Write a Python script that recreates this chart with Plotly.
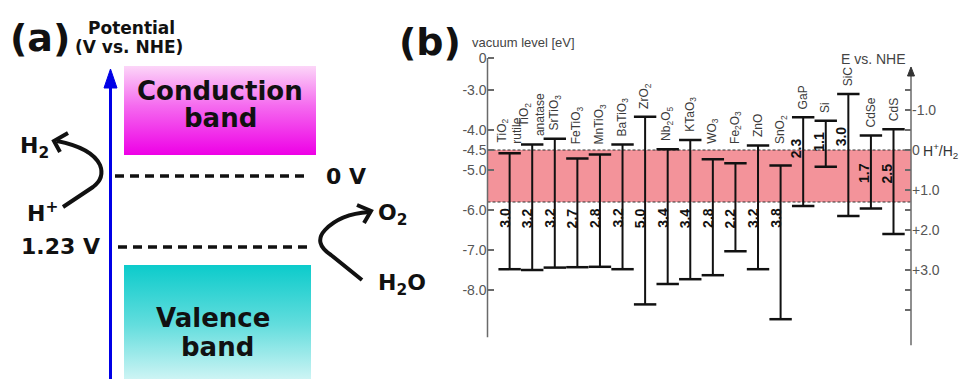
import plotly.graph_objects as go

W, H = 962, 379

# ---------------- data: panel (b) band edges (eV vs. vacuum) ----------------
materials = ["TiO<sub>2</sub><br>rutile", "TiO<sub>2</sub><br>anatase", "SrTiO<sub>3</sub>",
             "FeTiO<sub>3</sub>", "MnTiO<sub>3</sub>", "BaTiO<sub>3</sub>", "ZrO<sub>2</sub>",
             "Nb<sub>2</sub>O<sub>5</sub>", "KTaO<sub>3</sub>", "WO<sub>3</sub>",
             "Fe<sub>2</sub>O<sub>3</sub>", "ZnO", "SnO<sub>2</sub>", "GaP", "Si", "SiC",
             "CdSe", "CdS"]
cb_vac = [-4.58, -4.36, -4.22, -4.71, -4.61, -4.36, -3.67, -4.48, -4.25, -4.73,
          -4.83, -4.39, -4.89, -3.68, -3.77, -3.10, -4.14, -3.98]
vb_vac = [-7.48, -7.50, -7.44, -7.43, -7.42, -7.48, -8.36, -7.85, -7.73, -7.63,
          -7.03, -7.48, -8.73, -5.90, -4.92, -6.15, -5.96, -6.60]
gap_labels = ["3.0", "3.2", "3.2", "2.7", "2.8", "3.2", "5.0", "3.4", "3.4", "2.8",
              "2.2", "3.2", "3.8", "2.3", "1.1", "3.0", "1.7", "2.5"]

h2_level_vac = -4.5    # H+/H2
o2_level_vac = -5.8    # O2/H2O (as drawn)

vac_tick_vals = [-3.0, -4.0, -4.5, -5.0, -6.0, -7.0, -8.0]
vac_tick_text = ["-3.0", "-4.0", "-4.5", "-5.0", "-6.0", "-7.0", "-8.0"]
nhe_tick_vals = [-1.5, -1.0, -0.5, 0.0, 0.5, 1.0, 1.5, 2.0, 2.5, 3.0, 3.5, 4.0]
nhe_tick_text = ["", "-1.0", "", "0", "", "+1.0", "", "+2.0", "", "+3.0", "", ""]

# ---------------- data: panel (a) ----------------
redox_potentials = [0.0, 1.23]
redox_labels = ["0 V", "1.23 V"]

# ---------------- layout helpers (style / positions) ----------------
VAC_RANGE = [-9.5, -2.0]
AXIS_BREAK = -2.2            # where the "0" of the broken vacuum axis is drawn
NHE_OFFSET = -4.5            # E(vac) = -4.5 - E(NHE)
XDOM = [487.5 / W, 911 / W]
YDOM = [1 - 350 / H, 1 - 50 / H]
A_RANGE = [3.518, -3.050]    # panel (a) potential axis (reversed)

def px(x):
    return x / W

def py(y):
    return 1 - y / H

def path(cmds):
    out = []
    for c in cmds:
        if isinstance(c, str):
            out.append(c)
        else:
            out.append(f"{c[0] / W:.5f},{1 - c[1] / H:.5f}")
    return " ".join(out)

DARK = "#111111"
BOLD = dict(family="DejaVu Sans", color=DARK, weight="bold")

fig = go.Figure()

# ---------------- panel (a) boxes with gradients ----------------
cb_box = [-1.906, -0.364]
vb_box = [1.542, 3.6]
fig.add_trace(go.Scatter(
    x=[124, 316, 316, 124, 124], y=[cb_box[0], cb_box[0], cb_box[1], cb_box[1], cb_box[0]],
    xaxis="x2", yaxis="y2", mode="lines", fill="toself", line=dict(width=0),
    fillgradient=dict(type="vertical", start=cb_box[0], stop=cb_box[1],
                      colorscale=[[0, "#fcd6f8"], [0.45, "#f56aef"], [1, "#ee00e6"]]),
    hoverinfo="skip", showlegend=False))
fig.add_trace(go.Scatter(
    x=[124, 311, 311, 124, 124], y=[vb_box[0], vb_box[0], vb_box[1], vb_box[1], vb_box[0]],
    xaxis="x2", yaxis="y2", mode="lines", fill="toself", line=dict(width=0),
    fillgradient=dict(type="vertical", start=vb_box[0], stop=vb_box[1],
                      colorscale=[[0, "#0ccbcb"], [0.5, "#62dddd"], [1, "#d6f6f6"]]),
    hoverinfo="skip", showlegend=False))

# ---------------- panel (b) bars ----------------
bx, by = [], []
for i, (c, v) in enumerate(zip(cb_vac, vb_vac)):
    bx += [i, i, None]
    by += [c, v, None]
fig.add_trace(go.Scatter(x=bx, y=by, mode="lines", line=dict(color=DARK, width=2),
                         hoverinfo="skip", showlegend=False))
idx = list(range(len(materials)))
fig.add_trace(go.Scatter(
    x=idx + idx, y=cb_vac + vb_vac, mode="markers",
    marker=dict(symbol="line-ew", size=16, line=dict(color=DARK, width=2.5)),
    hoverinfo="skip", showlegend=False))
# invisible trace so the NHE (right) axis is drawn
fig.add_trace(go.Scatter(x=[0, 0], y=[NHE_OFFSET - h2_level_vac, NHE_OFFSET - o2_level_vac],
                         yaxis="y3", mode="markers", marker=dict(opacity=0),
                         hoverinfo="skip", showlegend=False))

shapes = []
annotations = []

# ---- panel (a) shapes ----
shapes.append(dict(type="line", xref="paper", yref="paper", x0=px(110.5), x1=px(110.5),
                   y0=py(379), y1=py(84), line=dict(color="#0000e6", width=3)))
shapes.append(dict(type="path", xref="paper", yref="paper",
                   path=path(["M", (110.5, 69), "L", (104, 88), "L", (117, 88), "Z"]),
                   fillcolor="#0000e6", line=dict(color="#0000e6", width=1)))
xs_dash = [(115, 308), (118, 310)]
for (x0, x1), pot in zip(xs_dash, redox_potentials):
    shapes.append(dict(type="line", xref="paper", yref="y2", x0=px(x0), x1=px(x1),
                       y0=pot, y1=pot, line=dict(color=DARK, width=3.5, dash="9px,6px")))
# curved arrows
shapes.append(dict(type="path", xref="paper", yref="paper",
                   path=path(["M", (63, 207), "L", (93, 187), "Q", (105, 178), (100, 165),
                              "Q", (92, 148), (57, 141)]),
                   line=dict(color=DARK, width=4)))
shapes.append(dict(type="path", xref="paper", yref="paper",
                   path=path(["M", (68, 133), "L", (54, 141), "L", (60, 152)]),
                   line=dict(color=DARK, width=4)))
shapes.append(dict(type="path", xref="paper", yref="paper",
                   path=path(["M", (362, 280), "L", (331, 255), "Q", (313, 243), (325, 230),
                              "Q", (340, 214), (369, 212)]),
                   line=dict(color=DARK, width=4)))
shapes.append(dict(type="path", xref="paper", yref="paper",
                   path=path(["M", (357, 205), "L", (371, 211), "L", (364, 223)]),
                   line=dict(color=DARK, width=4)))

# ---- panel (b) shapes ----
shapes.append(dict(type="rect", xref="paper", yref="y", x0=XDOM[0], x1=XDOM[1],
                   y0=o2_level_vac, y1=h2_level_vac, fillcolor="#f3939a",
                   line=dict(width=0), layer="below"))
for lev in (h2_level_vac, o2_level_vac):
    shapes.append(dict(type="line", xref="paper", yref="y", x0=XDOM[0], x1=XDOM[1],
                       y0=lev, y1=lev, line=dict(color="#333333", width=1, dash="3px,2px"),
                       layer="below"))
AX = "#6a6a6a"
shapes.append(dict(type="line", xref="paper", yref="y", x0=XDOM[0], x1=XDOM[0],
                   y0=AXIS_BREAK, y1=-9.18, line=dict(color=AX, width=1.5)))
shapes.append(dict(type="line", xref="paper", yref="y", x0=XDOM[1], x1=XDOM[1],
                   y0=-2.5, y1=-9.38, line=dict(color=AX, width=1.5)))
shapes.append(dict(type="path", xref="paper", yref="paper",
                   path=path(["M", (911, 67), "L", (907.5, 76), "L", (914.5, 76), "Z"]),
                   fillcolor="#333333", line=dict(color="#333333", width=1)))

# ---- panel (a) text ----
def ann(text, x, y, size, xanchor="center", yanchor="middle", yref="paper", **kw):
    annotations.append(dict(text=text, x=px(x), y=(py(y) if yref == "paper" else y),
                            xref="paper", yref=yref, showarrow=False, xanchor=xanchor,
                            yanchor=yanchor, font=dict(BOLD, size=size), **kw))

ann("(a)", 40, 38, 38)
ann("Potential", 131, 28, 17)
ann("(V vs. NHE)", 129, 47, 17)
ann("Conduction", 220, 91, 26)
ann("band", 220, 118, 26)
ann("Valence", 213, 318, 26)
ann("band", 217, 347, 26)
ann(redox_labels[0], 324, redox_potentials[0], 22, xanchor="left", yref="y2")
ann(redox_labels[1], 102, redox_potentials[1], 22, xanchor="right", yref="y2")
ann("H<sub>2</sub>", 18, 148, 22, xanchor="left")
ann("H<sup>+</sup>", 25, 212, 22, xanchor="left")
ann("O<sub>2</sub>", 376, 214, 22, xanchor="left")
ann("H<sub>2</sub>O", 376, 284, 22, xanchor="left")
ann("(b)", 430, 42, 38)

# ---- panel (b) text ----
SANS = "Liberation Sans"
annotations.append(dict(text="vacuum level [eV]", x=px(470), y=py(42), xref="paper",
                        yref="paper", showarrow=False, xanchor="left", yanchor="middle",
                        font=dict(family=SANS, size=13, color="#444444")))
annotations.append(dict(text="E vs. NHE", x=px(908), y=py(49), xref="paper", yref="paper",
                        showarrow=False, font=dict(family=SANS, size=14, color="#444444")))
annotations.append(dict(text="H<sup>+</sup>/H<sub>2</sub>", x=px(921), y=py(151),
                        xref="paper", yref="paper", showarrow=False, xanchor="left",
                        font=dict(family=SANS, size=14, color="#333333")))

for i, name in enumerate(materials):
    base = max(cb_vac[i] + 0.15, -4.4)
    annotations.append(dict(text=name, x=i, y=base, xref="x", yref="y", showarrow=False,
                            textangle=-90, xanchor="center", yanchor="bottom",
                            font=dict(family=SANS, size=12, color="#3a3a3a")))

gap_label_y = [-6.2] * 13 + [-4.45, -4.30, -4.15, -5.075, -5.1]
gap_label_dx = [-0.22] * 13 + [-0.31] * 5
for i, g in enumerate(gap_labels):
    annotations.append(dict(text=g, x=i + gap_label_dx[i], y=gap_label_y[i], xref="x",
                            yref="y", showarrow=False, textangle=-90, xanchor="center",
                            yanchor="middle",
                            font=dict(family=SANS, size=14, color=DARK, weight="bold")))

tick_common = dict(ticks="inside", ticklen=6, tickwidth=1.5, tickcolor=AX, showline=False,
                   showgrid=False, zeroline=False,
                   tickfont=dict(family=SANS, size=14, color="#555555"))

fig.update_layout(
    width=W, height=H, margin=dict(l=0, r=0, t=0, b=0),
    paper_bgcolor="white", plot_bgcolor="rgba(0,0,0,0)", showlegend=False,
    xaxis=dict(domain=XDOM, range=[-0.98, 17.775], visible=False, anchor="y"),
    yaxis=dict(domain=YDOM, range=VAC_RANGE, anchor="x", side="left",
               tickvals=[AXIS_BREAK] + vac_tick_vals, ticktext=["0"] + vac_tick_text,
               **tick_common),
    yaxis3=dict(overlaying="y", anchor="x", side="right",
                range=[NHE_OFFSET - VAC_RANGE[0], NHE_OFFSET - VAC_RANGE[1]],
                tickvals=nhe_tick_vals, ticktext=nhe_tick_text, **tick_common),
    xaxis2=dict(domain=[0, 1], range=[0, W], visible=False, anchor="y2"),
    yaxis2=dict(domain=[0, 1], range=A_RANGE, visible=False, anchor="x2"),
    shapes=shapes, annotations=annotations,
)

fig.write_html("out.html")
